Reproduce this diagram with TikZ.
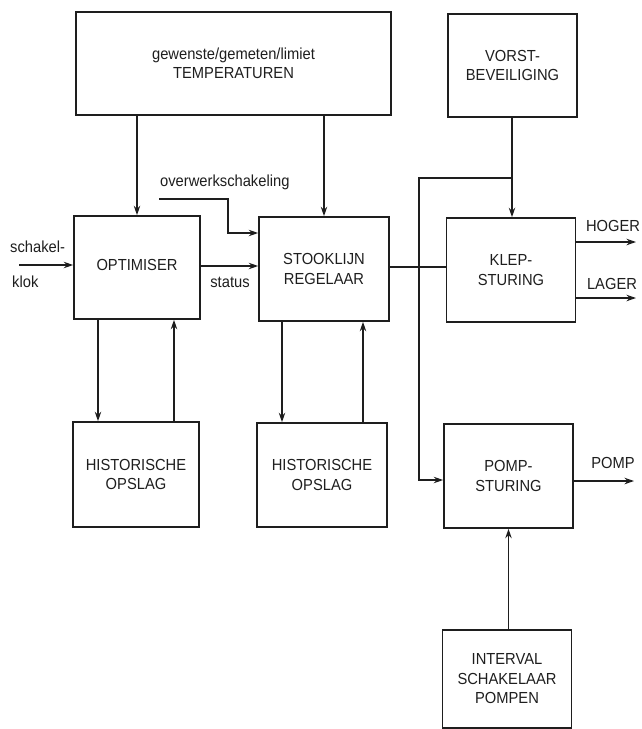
\documentclass[tikz,border=0pt]{standalone}
\usepackage{fontspec}
\setmainfont{Liberation Sans}[FakeStretch=0.92]
\usetikzlibrary{arrows.meta}
\definecolor{ink}{HTML}{1E1E1E}
\begin{document}
\begin{tikzpicture}[x=1pt,y=-1pt,
  txt/.style={font=\fontsize{16}{19.5}\selectfont,text=ink},
  box/.style={txt,draw=ink,line width=1.7pt,align=center,inner sep=0pt},
  lbl/.style={txt,inner sep=0pt},
  conn/.style={draw=ink,line width=1.3pt},
  arr/.style={conn,-{Stealth[length=9.5pt,width=6.5pt]}}]
\useasboundingbox (0,0) rectangle (641,729);

% blocks
\node[box,minimum width=315pt,minimum height=103pt] (temp) at (233.5,63.5)
  {gewenste/gemeten/limiet\\TEMPERATUREN};
\node[box,minimum width=129pt,minimum height=103pt] (vorst) at (512.5,65.5)
  {VORST-\\BEVEILIGING};
\node[box,minimum width=126pt,minimum height=103pt] (opt) at (137,267.5)
  {\raisebox{6pt}{OPTIMISER}};
\node[box,minimum width=130pt,minimum height=104pt] (stook) at (324,269)
  {STOOKLIJN\\REGELAAR};
\node[box,minimum width=129pt,minimum height=104pt] (klep) at (511,270)
  {KLEP-\\STURING};
\node[box,minimum width=126pt,minimum height=105pt] (hist1) at (136,474.5)
  {HISTORISCHE\\OPSLAG};
\node[box,minimum width=130pt,minimum height=104pt] (hist2) at (322,475)
  {HISTORISCHE\\OPSLAG};
\node[box,minimum width=129pt,minimum height=104pt] (pomp) at (508.5,476)
  {POMP-\\STURING};
\node[box,minimum width=129pt,minimum height=98pt] (intv) at (507,679)
  {INTERVAL\\SCHAKELAAR\\POMPEN};

% free ends of connectors
\coordinate (sk) at (19,265);
\coordinate (ow) at (159,199);
\coordinate (owb) at (228,199);
\coordinate (j) at (512,178);
\coordinate (jb) at (419,178);
\coordinate (hg) at (636,242);
\coordinate (lg) at (636,298);
\coordinate (pm) at (634,481);

% labels
\node[lbl,anchor=west] (owl) at (160,182) {overwerkschakeling};
\node[lbl,anchor=west] (skl1) at (10,247) {schakel-};
\node[lbl,anchor=west] (skl2) at (12,282) {klok};
\node[lbl] (stl) at (230,282) {status};
\node[lbl] (hgl) at (613,226) {HOGER};
\node[lbl] (lgl) at (612,284) {LAGER};
\node[lbl] (pml) at (613,463) {POMP};

% connectors
\draw[arr] (opt.north |- temp.south) -- (opt.north);
\draw[arr] (stook.north |- temp.south) -- (stook.north);
\draw[arr] (j |- vorst.south) -- (j |- klep.north);
\draw[arr] (j) -- (jb) |- ([yshift=-4pt]pomp.west);
\draw[conn] ([yshift=2pt]stook.east) -- ([yshift=2pt]stook.east -| klep.west);
\draw[arr] (ow) -- (owb) |- (stook.west |- 0,233);
\draw[arr] (sk) -- (opt.west |- sk);
\draw[arr] (opt.east |- 0,266) -- (stook.west |- 0,266);
\draw[arr] (opt.south -| 98,0) -- (hist1.north -| 98,0);
\draw[arr] (hist1.north -| 174,0) -- (opt.south -| 174,0);
\draw[arr] (stook.south -| 282,0) -- (hist2.north -| 282,0);
\draw[arr] (hist2.north -| 363,0) -- (stook.south -| 363,0);
\draw[arr] (klep.east |- hg) -- (hg);
\draw[arr] (klep.east |- lg) -- (lg);
\draw[arr] (pomp.east |- pm) -- (pm);
\draw[arr] (pomp.south |- intv.north) -- (pomp.south);
\end{tikzpicture}
\end{document}
